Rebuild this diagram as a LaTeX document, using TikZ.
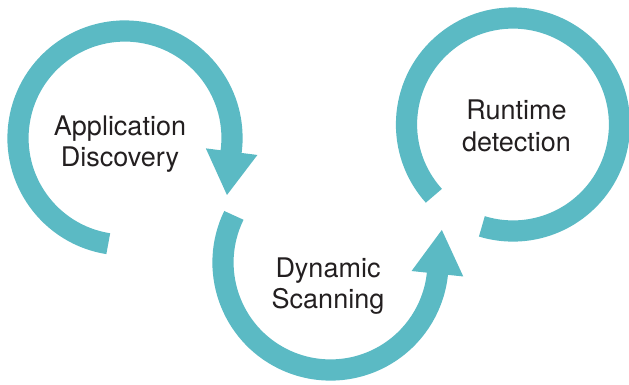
\documentclass[tikz,border=0pt]{standalone}
\usepackage{fontspec}
\setmainfont{TeX Gyre Heros}
\usetikzlibrary{calc}
\definecolor{cyc}{RGB}{91,186,196}
\definecolor{txt}{RGB}{35,31,32}
\tikzset{band/.style={draw=cyc, line width=0.53cm},
	lbl/.style={align=center, text=txt, inner sep=0pt, font=\fontsize{19.2}{22.6}\selectfont}}

\begin{document}
\begin{tikzpicture}[x=0.025cm,y=0.025cm]
		\useasboundingbox (0,0) rectangle (629,-384);
		\coordinate (C1) at (125,-138);
		\coordinate (C2) at (330.5,-262.5);
		\coordinate (C3) at (513,-124.5);
		\node[lbl] (disc) at (120,-144) {Application\\Discovery};
		\node[lbl] (scan) at (328,-286) {Dynamic\\Scanning};
		\node[lbl] (run) at (516.5,-126) {Runtime\\detection};
		\draw[band] ($(C1)+(261:107)$) arc[start angle=261, end angle=-8, radius=107];
		\draw[band] ($(C2)+(154:107.5)$) arc[start angle=154, end angle=355, radius=107.5];
		\draw[band] ($(C3)+(222:106.5)$) arc[start angle=222, end angle=-107, radius=106.5];
		\foreach \c/\a/\t/\r in {C1/-7.3/-29.2/116.8, C2/-6/16.3/116}
			\fill[cyc] ($(\c)+(\a:81.5)$) -- ($(\c)+(\a:133.5)$) -- ($(\c)+(\t:\r)$) -- cycle;
	\end{tikzpicture}
\end{document}
